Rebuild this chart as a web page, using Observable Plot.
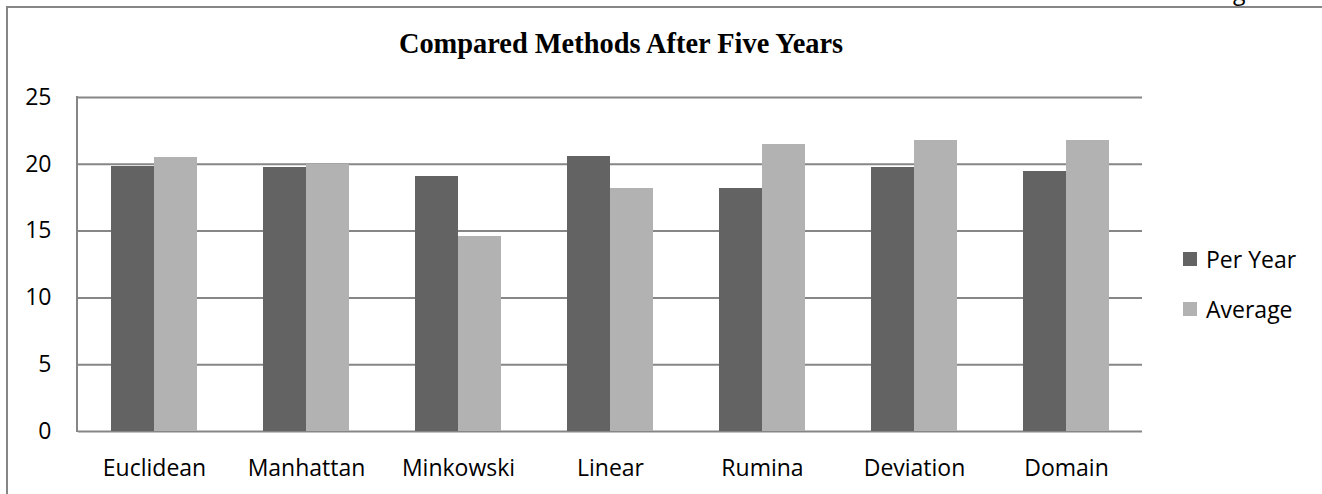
<!DOCTYPE html>
<html><head><meta charset="utf-8">
<script src="https://cdn.jsdelivr.net/npm/d3@7"></script>
<script src="https://cdn.jsdelivr.net/npm/@observablehq/plot@0.6"></script>
<style>
body{margin:0;background:#fff;}
#wrap{position:relative;width:1322px;height:494px;overflow:hidden;background:#fff;}
#frame{position:absolute;left:6px;top:6px;width:1316px;height:488px;border-top:2px solid #868686;border-left:2px solid #868686;box-sizing:border-box;}
#chart{position:absolute;left:0;top:0;}
#title{position:absolute;left:0;width:1242px;top:28px;text-align:center;font:bold 28.4px "Liberation Serif";color:#000;}
#cut{position:absolute;left:1233px;top:-20px;font:23px "Open Sans";line-height:22px;color:#000;}
#legend{position:absolute;left:1183px;top:234px;font:23px "Open Sans";color:#000;}
.item{display:flex;align-items:center;height:50px;}
.sw{width:14px;height:14px;margin-right:9px;}
</style>
</head><body>
<div id="wrap">
  <div id="cut">g</div>
  <div id="frame"></div>
  <div id="chart"></div>
  <div id="title"></div>
  <div id="legend"></div>
</div>
<script>
const titleText = "Compared Methods After Five Years";
const categories = ["Euclidean","Manhattan","Minkowski","Linear","Rumina","Deviation","Domain"];
const series = ["Per Year","Average"];
const perYear = [19.8, 19.75, 19.1, 20.6, 18.2, 19.75, 19.45];
const average = [20.5, 20.0, 14.6, 18.2, 21.5, 21.8, 21.75];
const yTicks = [0, 5, 10, 15, 20, 25];
const colors = ["#636363", "#b2b2b2"];

const rows = [];
categories.forEach((c, i) => {
  rows.push({category: c, series: series[0], value: perYear[i]});
  rows.push({category: c, series: series[1], value: average[i]});
});

document.getElementById("title").textContent = titleText;

const chart = Plot.plot({
  width: 1322, height: 494,
  marginLeft: 77, marginRight: 180, marginTop: 97, marginBottom: 63,
  style: {fontFamily: "Open Sans", fontSize: "23px", color: "#000", background: "transparent"},
  fx: {domain: categories, padding: 0, label: null},
  x: {domain: series, paddingInner: 0, paddingOuter: 0.75, axis: null},
  y: {domain: [0, 25], label: null},
  color: {domain: series, range: colors},
  marks: [
    Plot.gridY(yTicks, {stroke: "#868686", strokeOpacity: 1, strokeWidth: 2}),
    Plot.barY(rows, {fx: "category", x: "series", y: "value", fill: "series", shapeRendering: "crispEdges"}),
    Plot.axisY(yTicks, {tickSize: 0, tickPadding: 27, label: null, fontSize: 23}),
    Plot.axisFx({anchor: "bottom", tickSize: 0, tickPadding: 28, label: null, fontSize: 23})
  ]
});
document.getElementById("chart").appendChild(chart);

// left axis line from scales
const fx = chart.scale("fx"), y = chart.scale("y");
d3.select(chart).append("line")
  .attr("x1", fx.range[0]).attr("x2", fx.range[0])
  .attr("y1", y.apply(0) + 1).attr("y2", y.apply(25) - 1)
  .attr("stroke", "#868686").attr("stroke-width", 2);

const legend = d3.select("#legend");
series.forEach((s, i) => {
  const it = legend.append("div").attr("class", "item");
  it.append("div").attr("class", "sw").style("background", colors[i]);
  it.append("span").text(s);
});
</script>
</body></html>
